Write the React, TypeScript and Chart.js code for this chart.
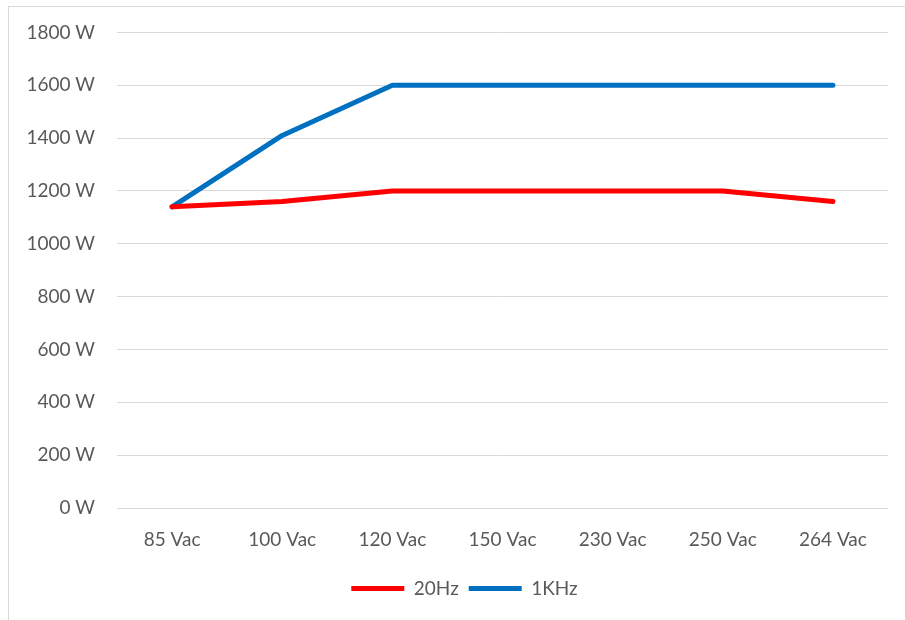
import React, { useEffect, useRef } from "react";
import { Chart, registerables } from "chart.js";

Chart.register(...registerables);

const categories = ["85 Vac", "100 Vac", "120 Vac", "150 Vac", "230 Vac", "250 Vac", "264 Vac"];
const series20Hz = [1140, 1160, 1200, 1200, 1200, 1200, 1160];
const series1KHz = [1140, 1410, 1600, 1600, 1600, 1600, 1600];
const yTicks = [0, 200, 400, 600, 800, 1000, 1200, 1400, 1600, 1800];

const FONT = "Lato";
const TEXT = "#595959";

const legendShift = {
  id: "legendShift",
  afterLayout(chart: any) {
    const lg = chart.legend;
    if (lg) {
      lg.left += 16;
      lg.right += 16;
    }
  },
};

export default function App() {
  const ref = useRef<HTMLCanvasElement | null>(null);

  useEffect(() => {
    if (!ref.current) return;
    const chart = new Chart(ref.current, {
      type: "line",
      data: {
        labels: categories,
        datasets: [
          {
            label: "20Hz",
            data: series20Hz,
            borderColor: "#ff0000",
            backgroundColor: "#ff0000",
            borderWidth: 5,
            borderCapStyle: "round",
            borderJoinStyle: "round",
            pointRadius: 0,
            pointStyle: "line",
            tension: 0,
          },
          {
            label: "1KHz",
            data: series1KHz,
            borderColor: "#0070c0",
            backgroundColor: "#0070c0",
            borderWidth: 5,
            borderCapStyle: "round",
            borderJoinStyle: "round",
            pointRadius: 0,
            pointStyle: "line",
            tension: 0,
          },
        ],
      },
      options: {
        animation: false,
        responsive: false,
        maintainAspectRatio: false,
        layout: { padding: { left: 0, right: 17, top: 10, bottom: 12 } },
        scales: {
          x: {
            offset: true,
            grid: { display: false, drawTicks: false },
            border: { display: false },
            ticks: { color: TEXT, font: { family: FONT, size: 19 }, padding: 20, maxRotation: 0 },
            afterFit: (s: any) => {
              s.height = 61;
            },
          },
          y: {
            min: 0,
            max: 1800,
            afterBuildTicks: (s: any) => {
              s.ticks = yTicks.map((v) => ({ value: v }));
            },
            grid: { color: "#d9d9d9", lineWidth: 1, drawTicks: false },
            border: { display: false },
            ticks: {
              color: TEXT,
              font: { family: FONT, size: 19 },
              padding: 22,
              callback: (v: any) => `${v} W`,
            },
            afterFit: (s: any) => {
              s.width = 108;
            },
          },
        },
        plugins: {
          legend: {
            position: "bottom",
            labels: {
              usePointStyle: true,
              pointStyleWidth: 53,
              color: TEXT,
              font: { family: FONT, size: 19 },
              padding: 10,
            },
          },
          tooltip: { enabled: false },
        },
      },
      plugins: [legendShift],
    });
    return () => chart.destroy();
  }, []);

  return (
    <div
      style={{
        position: "absolute",
        left: 8,
        top: 6,
        width: 1000,
        height: 700,
        borderTop: "1px solid #d9d9d9",
        borderLeft: "1px solid #d9d9d9",
        background: "#fff",
      }}
    >
      <canvas
        ref={ref}
        width={896}
        height={621}
        style={{ display: "block", position: "absolute", left: 0, top: -8 }}
      />
    </div>
  );
}
